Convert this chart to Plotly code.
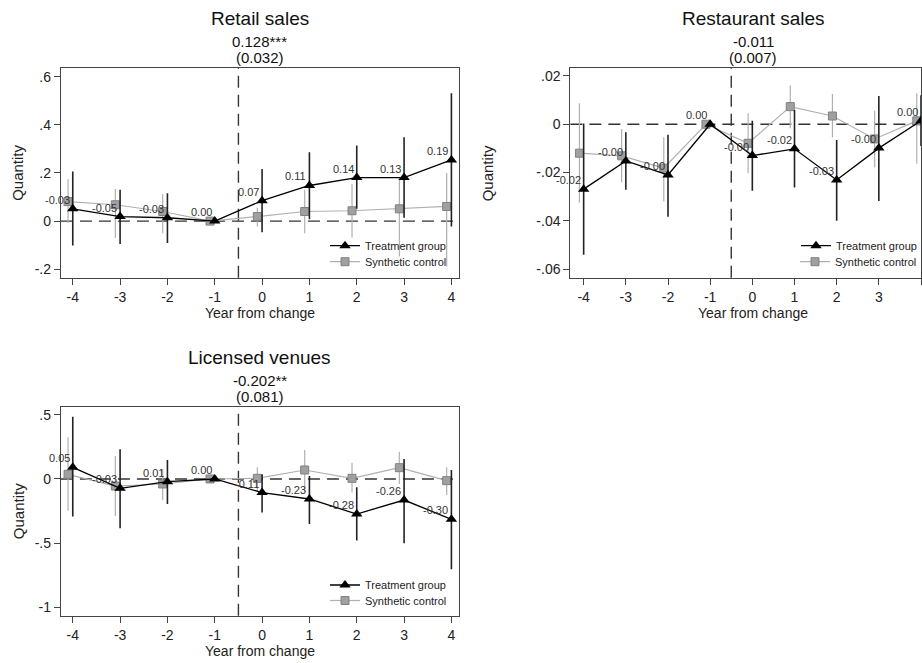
import plotly.graph_objects as go

years = [-4, -3, -2, -1, 0, 1, 2, 3, 4]

# Retail sales
retail_treat = [0.051, 0.019, 0.014, 0.0, 0.085, 0.148, 0.181, 0.181, 0.254]
retail_treat_hi = [0.206, 0.130, 0.116, 0.0, 0.216, 0.286, 0.314, 0.348, 0.531]
retail_treat_lo = [-0.101, -0.095, -0.091, 0.0, -0.046, 0.008, 0.051, 0.014, -0.022]
retail_synth = [0.081, 0.068, 0.040, 0.0, 0.019, 0.040, 0.043, 0.051, 0.061]
retail_synth_hi = [0.174, 0.133, 0.112, 0.0, 0.056, 0.130, 0.153, 0.174, 0.200]
retail_synth_lo = [-0.008, -0.070, -0.050, 0.0, -0.022, -0.050, -0.068, -0.147, -0.188]
retail_labels = ["-0.03", "-0.05", "-0.03", "0.00", "0.07", "0.11", "0.14", "0.13", "0.19"]

# Restaurant sales
rest_treat = [-0.0269, -0.0152, -0.0210, 0.0, -0.0130, -0.0102, -0.0231, -0.0099, 0.0014]
rest_treat_hi = [0.0003, -0.0033, -0.0044, 0.0, 0.0014, 0.0059, -0.0065, 0.0117, 0.0120]
rest_treat_lo = [-0.0541, -0.0272, -0.0383, 0.0, -0.0276, -0.0262, -0.0400, -0.0318, -0.0090]
rest_synth = [-0.0120, -0.0131, -0.0182, 0.0, -0.0079, 0.0073, 0.0034, -0.0061, 0.0014]
rest_synth_hi = [0.0087, -0.0020, -0.0054, 0.0, 0.0046, 0.0160, 0.0125, 0.0056, 0.0128]
rest_synth_lo = [-0.0325, -0.0240, -0.0320, 0.0, -0.0203, -0.0017, -0.0055, -0.0178, -0.0164]
rest_labels = ["-0.02", "-0.00", "-0.00", "0.00", "-0.00", "-0.02", "-0.03", "-0.00", "0.00"]

# Licensed venues
lic_treat = [0.091, -0.073, -0.021, 0.0, -0.106, -0.156, -0.273, -0.164, -0.314]
lic_treat_hi = [0.485, 0.231, 0.148, 0.0, 0.036, 0.023, -0.065, 0.156, 0.070]
lic_treat_lo = [-0.293, -0.384, -0.195, 0.0, -0.262, -0.350, -0.480, -0.500, -0.703]
lic_synth = [0.036, -0.055, -0.039, 0.0, 0.005, 0.070, 0.005, 0.088, -0.013]
lic_synth_hi = [0.325, 0.179, 0.075, 0.0, 0.091, 0.226, 0.127, 0.213, 0.091]
lic_synth_lo = [-0.247, -0.288, -0.164, 0.0, -0.091, -0.099, -0.106, -0.040, -0.125]
lic_labels = ["0.05", "-0.03", "0.01", "0.00", "-0.11", "-0.23", "-0.28", "-0.26", "-0.30"]

titles = ["Retail sales", "Restaurant sales", "Licensed venues"]
estimates = ["0.128***", "-0.011", "-0.202**"]
std_errs = ["(0.032)", "(0.007)", "(0.081)"]
legend_names = ["Treatment group", "Synthetic control"]

W, H = 922, 663
FONT = "Liberation Sans, Arial, sans-serif"

panels = [
    dict(treat=retail_treat, thi=retail_treat_hi, tlo=retail_treat_lo,
         synth=retail_synth, shi=retail_synth_hi, slo=retail_synth_lo, labels=retail_labels,
         xdom=(61, 459), ydom=(68, 277.7), xr=[-4.25, 4.15], yr=[-0.235, 0.636],
         yt=[-0.2, 0, 0.2, 0.4, 0.6], ytt=["-.2", "0", ".2", ".4", ".6"],
         legx=325, legy=(245.7, 261.7), ytitle_x=18, cx=260, top=0),
    dict(treat=rest_treat, thi=rest_treat_hi, tlo=rest_treat_lo,
         synth=rest_synth, shi=rest_synth_hi, slo=rest_synth_lo, labels=rest_labels,
         xdom=(571, 922), ydom=(68, 277.7), xr=[-4.315, 4.0], yr=[-0.0636, 0.0233],
         yt=[-0.06, -0.04, -0.02, 0, 0.02], ytt=["-.06", "-.04", "-.02", "0", ".02"],
         legx=796, legy=(245.7, 261.7), ytitle_x=488, cx=754, top=0),
    dict(treat=lic_treat, thi=lic_treat_hi, tlo=lic_treat_lo,
         synth=lic_synth, shi=lic_synth_hi, slo=lic_synth_lo, labels=lic_labels,
         xdom=(61, 459), ydom=(406.7, 615.7), xr=[-4.25, 4.15], yr=[-1.065, 0.563],
         yt=[-1, -0.5, 0, 0.5], ytt=["-1", "-.5", "0", ".5"],
         legx=325, legy=(585, 600.5), ytitle_x=18, cx=260, top=339),
]

fig = go.Figure()
annotations = []
shapes = []
layout = {}

for i, p in enumerate(panels):
    n = "" if i == 0 else str(i + 1)
    xa, ya = "x" + n, "y" + n
    leg_t = "legend" if i == 0 else "legend" + str(2 * i + 1)
    leg_s = "legend" + str(2 * i + 2)
    sx = [x - 0.1 for x in years]
    fig.add_trace(go.Scatter(
        x=sx, y=p["synth"], mode="lines+markers", name=legend_names[1],
        xaxis=xa, yaxis=ya, legend=leg_s,
        line=dict(color="#b0b0b0", width=1.2),
        marker=dict(symbol="square", size=8, color="#a0a0a0", line=dict(color="#808080", width=1)),
        error_y=dict(type="data", symmetric=False,
                     array=[h - v for h, v in zip(p["shi"], p["synth"])],
                     arrayminus=[v - l for l, v in zip(p["slo"], p["synth"])],
                     width=0, thickness=1.2, color="#b0b0b0"),
    ))
    fig.add_trace(go.Scatter(
        x=years, y=p["treat"], mode="lines+markers", name=legend_names[0],
        xaxis=xa, yaxis=ya, legend=leg_t,
        line=dict(color="black", width=1.3),
        marker=dict(symbol="triangle-up", size=10, color="black"),
        error_y=dict(type="data", symmetric=False,
                     array=[h - v for h, v in zip(p["thi"], p["treat"])],
                     arrayminus=[v - l for l, v in zip(p["tlo"], p["treat"])],
                     width=0, thickness=1.6, color="#222222"),
    ))
    x0, x1 = p["xdom"]
    y0, y1 = p["ydom"]
    axis_common = dict(showline=True, mirror=True, linecolor="#444", linewidth=1.2,
                       ticks="outside", ticklen=6, tickcolor="#444", tickwidth=1,
                       showgrid=False, zeroline=False,
                       tickfont=dict(family=FONT, size=14, color="#222"))
    layout["xaxis" + n] = dict(domain=[x0 / W, x1 / W], range=p["xr"], anchor=ya,
                               tickvals=years, ticktext=[str(v) for v in years], **axis_common)
    layout["yaxis" + n] = dict(domain=[1 - y1 / H, 1 - y0 / H], range=p["yr"], anchor=xa,
                               tickvals=p["yt"], ticktext=p["ytt"], **axis_common)
    for leg, ly in ((leg_t, p["legy"][0]), (leg_s, p["legy"][1])):
        layout[leg] = dict(x=p["legx"] / W, y=1 - ly / H, xanchor="left", yanchor="middle",
                           bgcolor="rgba(0,0,0,0)", borderwidth=0,
                           font=dict(family=FONT, size=11, color="#222"))
    dash = "12px,7px"
    shapes.append(dict(type="line", xref=xa + " domain", x0=0, x1=1, yref=ya, y0=0, y1=0,
                       line=dict(color="#333", width=1.3, dash=dash), layer="below"))
    shapes.append(dict(type="line", xref=xa, x0=-0.5, x1=-0.5, yref=ya + " domain", y0=0, y1=1,
                       line=dict(color="#333", width=1.4, dash=dash), layer="below"))
    for x, y, t in zip(years, p["treat"], p["labels"]):
        annotations.append(dict(x=x, y=y, xref=xa, yref=ya, text=t, showarrow=False,
                                xanchor="right", yanchor="bottom", xshift=-1, yshift=1,
                                font=dict(family=FONT, size=11, color="#333")))
    top = p["top"]
    cx = p["cx"] / W
    annotations.append(dict(x=cx, y=1 - (18 + top) / H, xref="paper", yref="paper",
                            text=titles[i], showarrow=False, xanchor="center", yanchor="middle",
                            font=dict(family=FONT, size=19, color="#111")))
    annotations.append(dict(x=cx, y=1 - (41.5 + top) / H, xref="paper", yref="paper",
                            text=estimates[i], showarrow=False, xanchor="center", yanchor="middle",
                            font=dict(family=FONT, size=15, color="#111")))
    annotations.append(dict(x=cx, y=1 - (57 + top) / H, xref="paper", yref="paper",
                            text=std_errs[i], showarrow=False, xanchor="center", yanchor="middle",
                            font=dict(family=FONT, size=15, color="#111")))
    annotations.append(dict(x=p["ytitle_x"] / W, y=1 - ((y0 + y1) / 2) / H, xref="paper", yref="paper",
                            text="Quantity", showarrow=False, textangle=-90,
                            xanchor="center", yanchor="middle",
                            font=dict(family=FONT, size=15, color="#222")))
    annotations.append(dict(x=cx, y=1 - (y1 + 35) / H, xref="paper", yref="paper",
                            text="Year from change", showarrow=False,
                            xanchor="center", yanchor="middle",
                            font=dict(family=FONT, size=14, color="#222")))

fig.update_layout(width=W, height=H, margin=dict(l=0, r=0, t=0, b=0),
                  paper_bgcolor="white", plot_bgcolor="white",
                  annotations=annotations, shapes=shapes, showlegend=True, **layout)

fig.write_html("out.html", config={"displayModeBar": False},
               post_script="document.body.style.margin='0';document.body.style.overflow='hidden';")
